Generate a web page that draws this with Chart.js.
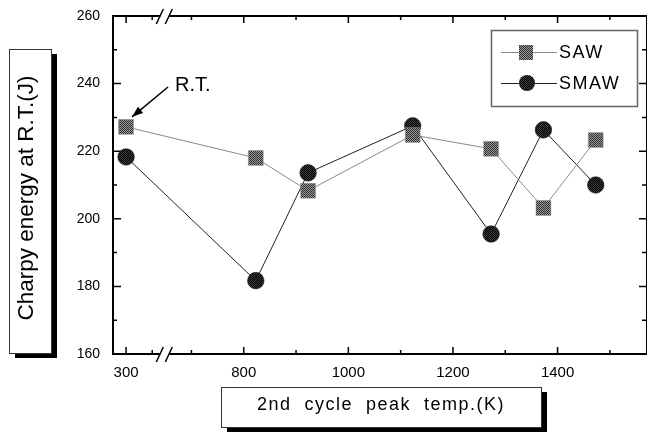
<!DOCTYPE html>
<html>
<head>
<meta charset="utf-8">
<script src="https://cdn.jsdelivr.net/npm/chart.js@4.4.1/dist/chart.umd.min.js"></script>
<style>
    html, body { margin: 0; padding: 0; background: #fff; }
    canvas { display: block; }
</style>
</head>
<body>
<canvas id="myChart" width="647" height="433"></canvas>
<script>
"use strict"

// 2nd cycle peak temperature (K); 300 = room temp, sits left of the axis break
let temps = [300, 823, 923, 1123, 1273, 1373, 1473];
let sawEnergy = [227.2, 218.0, 208.3, 224.8, 220.7, 203.2, 223.3];
let smawEnergy = [218.3, 181.7, 213.6, 227.5, 195.5, 226.3, 210.0];

let xTickLabels = [300, 800, 1000, 1200, 1400];
let xMinorTicks = [350, 700, 900, 1100, 1300, 1500];
let yTicks = [160, 180, 200, 220, 240, 260];
let yMinorTicks = [170, 190, 210, 230, 250];

let breakShift = 275; // values left of the break are pushed right by this much
let breakAt = 650;    // axis units where the // marks go

const FONT = "'Liberation Sans', Arial, sans-serif";

function toAxis(t) {
    return t < 600 ? t + breakShift : t;
}

let canvasChart = document.getElementById('myChart');
let mainCtx = canvasChart.getContext('2d');

function makePattern(dark, light) { // 2x2 checker, looks like the dithered print
    let c = document.createElement('canvas');
    c.width = 2;
    c.height = 2;
    let g = c.getContext('2d');
    g.fillStyle = light;
    g.fillRect(0, 0, 2, 2);
    g.fillStyle = dark;
    g.fillRect(0, 0, 1, 1);
    g.fillRect(1, 1, 1, 1);
    return mainCtx.createPattern(c, 'repeat');
}

let sawFill = makePattern('#2e2e2e', '#9a9a9a');
let smawFill = makePattern('#000000', '#3a3a3a');

function tickPath(ctx, x1, y1, x2, y2) {
    ctx.moveTo(x1, y1);
    ctx.lineTo(x2, y2);
}

function noScalePadding(s) { // keep chart area where the layout puts it
    s.paddingTop = 0;
    s.paddingBottom = 0;
    s.paddingLeft = 0;
    s.paddingRight = 0;
}

const framePlugin = {
    id: 'frame',
    beforeDatasetsDraw(chart) {
        const ctx = chart.ctx;
        const a = chart.chartArea;
        const x = chart.scales.x;
        const y = chart.scales.y;
        ctx.save();
        ctx.strokeStyle = '#000';
        ctx.lineWidth = 2;
        ctx.strokeRect(a.left, a.top, a.right - a.left, a.bottom - a.top);

        ctx.lineWidth = 1.5;
        ctx.beginPath();
        xTickLabels.forEach(v => {
            let px = x.getPixelForValue(toAxis(v));
            tickPath(ctx, px, a.bottom, px, a.bottom - 7);
            tickPath(ctx, px, a.top, px, a.top + 7);
        });
        xMinorTicks.forEach(v => {
            let px = x.getPixelForValue(toAxis(v));
            tickPath(ctx, px, a.bottom, px, a.bottom - 4);
            tickPath(ctx, px, a.top, px, a.top + 4);
        });
        yTicks.forEach(v => {
            let py = y.getPixelForValue(v);
            tickPath(ctx, a.left, py, a.left + 8, py);
            tickPath(ctx, a.right, py, a.right - 8, py);
        });
        yMinorTicks.forEach(v => {
            let py = y.getPixelForValue(v);
            tickPath(ctx, a.left, py, a.left + 4, py);
            tickPath(ctx, a.right, py, a.right - 5, py);
        });
        ctx.stroke();

        // axis break marks
        let bx = x.getPixelForValue(breakAt);
        [a.top, a.bottom].forEach(yy => {
            ctx.fillStyle = '#fff';
            ctx.fillRect(bx - 5, yy - 2, 9, 4);
            ctx.beginPath();
            tickPath(ctx, bx - 9, yy + 8, bx - 2, yy - 7);
            tickPath(ctx, bx, yy + 8, bx + 7, yy - 7);
            ctx.lineWidth = 1.5;
            ctx.stroke();
        });
        ctx.restore();
    }
};

function shadowBox(ctx, x, y, w, h) {
    ctx.fillStyle = '#000';
    ctx.fillRect(x + 6, y + 5, w, h);
    ctx.fillStyle = '#fff';
    ctx.fillRect(x, y, w, h);
    ctx.strokeStyle = '#333';
    ctx.lineWidth = 1;
    ctx.strokeRect(x + 0.5, y + 0.5, w, h);
}

const decoPlugin = {
    id: 'deco',
    afterDraw(chart) {
        const ctx = chart.ctx;
        const x = chart.scales.x;
        const y = chart.scales.y;
        ctx.save();
        ctx.fillStyle = '#000';

        // y title
        shadowBox(ctx, 9, 49, 42, 304);
        ctx.save();
        ctx.translate(33, 198);
        ctx.rotate(-Math.PI / 2);
        ctx.fillStyle = '#000';
        ctx.font = '22.5px ' + FONT;
        ctx.textAlign = 'center';
        ctx.textBaseline = 'alphabetic';
        ctx.fillText('Charpy energy at R.T.(J)', 0, 0);
        ctx.restore();

        // x title
        shadowBox(ctx, 221, 387, 320, 40);
        ctx.fillStyle = '#000';
        ctx.font = '18px ' + FONT;
        ctx.textAlign = 'center';
        ctx.textBaseline = 'alphabetic';
        ctx.letterSpacing = '1.5px';
        ctx.fillText('2nd  cycle  peak  temp.(K)', 381, 410);
        ctx.letterSpacing = '0px';

        // legend
        ctx.strokeStyle = '#666';
        ctx.lineWidth = 1.5;
        ctx.strokeRect(491.5, 30.5, 146, 76);
        ctx.lineWidth = 1;
        ctx.strokeStyle = '#8a8a8a';
        ctx.beginPath();
        tickPath(ctx, 501, 52.5, 557, 52.5);
        ctx.stroke();
        ctx.strokeStyle = '#222';
        ctx.beginPath();
        tickPath(ctx, 501, 83.5, 557, 83.5);
        ctx.stroke();
        ctx.fillStyle = sawFill;
        ctx.fillRect(519, 45, 14, 15);
        ctx.fillStyle = smawFill;
        ctx.beginPath();
        ctx.arc(527, 83, 8, 0, Math.PI * 2);
        ctx.fill();
        ctx.fillStyle = '#000';
        ctx.font = '18px ' + FONT;
        ctx.textAlign = 'left';
        ctx.letterSpacing = '1.5px';
        ctx.fillText('SAW', 559, 58);
        ctx.fillText('SMAW', 559, 89);
        ctx.letterSpacing = '0px';

        // R.T. note with arrow to the room temp. point
        let px = x.getPixelForValue(toAxis(temps[0]));
        let py = y.getPixelForValue(sawEnergy[0]);
        let tipX = px + 6, tipY = py - 10;
        let fromX = 168, fromY = 87;
        ctx.font = '20px ' + FONT;
        ctx.fillText('R.T.', 175, 91);
        ctx.strokeStyle = '#000';
        ctx.lineWidth = 1.5;
        ctx.beginPath();
        tickPath(ctx, fromX, fromY, tipX, tipY);
        ctx.stroke();
        let ang = Math.atan2(tipY - fromY, tipX - fromX);
        ctx.beginPath();
        ctx.moveTo(tipX, tipY);
        ctx.lineTo(tipX - 11 * Math.cos(ang) + 4 * Math.sin(ang), tipY - 11 * Math.sin(ang) - 4 * Math.cos(ang));
        ctx.lineTo(tipX - 11 * Math.cos(ang) - 4 * Math.sin(ang), tipY - 11 * Math.sin(ang) + 4 * Math.cos(ang));
        ctx.closePath();
        ctx.fill();

        ctx.restore();
    }
};

const data = {
    datasets: [{
        label: 'SAW',
        data: temps.map((t, i) => ({ x: toAxis(t), y: sawEnergy[i] })),
        borderColor: '#8a8a8a',
        borderWidth: 1,
        pointStyle: 'rect',
        pointRadius: 10.5,
        pointBackgroundColor: sawFill,
        pointBorderColor: '#888',
        pointBorderWidth: 0.5,
        tension: 0
    },
    {
        label: 'SMAW',
        data: temps.map((t, i) => ({ x: toAxis(t), y: smawEnergy[i] })),
        borderColor: '#222',
        borderWidth: 1,
        pointStyle: 'circle',
        pointRadius: 8.3,
        pointBackgroundColor: smawFill,
        pointBorderColor: '#111',
        pointBorderWidth: 0.5,
        tension: 0
    }]
};

const config = {
    type: 'line',
    data: data,
    options: {
        responsive: false,
        animation: false,
        events: [],
        // right axis of the original sits just past the picture edge
        layout: { autoPadding: false, padding: { top: 16, left: 0, right: -2, bottom: 0 } },
        plugins: {
            legend: { display: false },
            tooltip: { enabled: false }
        },
        scales: {
            x: {
                type: 'linear',
                min: 550,
                max: 1571,
                grid: { display: false, drawTicks: false },
                border: { display: false },
                afterBuildTicks: s => { s.ticks = xTickLabels.map(v => ({ value: toAxis(v) })); },
                afterFit: s => { s.height = 79; noScalePadding(s); },
                ticks: {
                    padding: 10,
                    color: '#000',
                    autoSkip: false,
                    maxRotation: 0,
                    font: { family: FONT, size: 15 },
                    callback: (v, i) => xTickLabels[i]
                }
            },
            y: {
                type: 'linear',
                min: 160,
                max: 260,
                grid: { display: false, drawTicks: false },
                border: { display: false },
                afterBuildTicks: s => { s.ticks = yTicks.map(v => ({ value: v })); },
                afterFit: s => { s.width = 113; noScalePadding(s); },
                ticks: {
                    padding: 13,
                    color: '#000',
                    font: { family: FONT, size: 14 }
                }
            }
        }
    },
    plugins: [framePlugin, decoPlugin]
};

const myChart = new Chart(canvasChart, config);
</script>
</body>
</html>
